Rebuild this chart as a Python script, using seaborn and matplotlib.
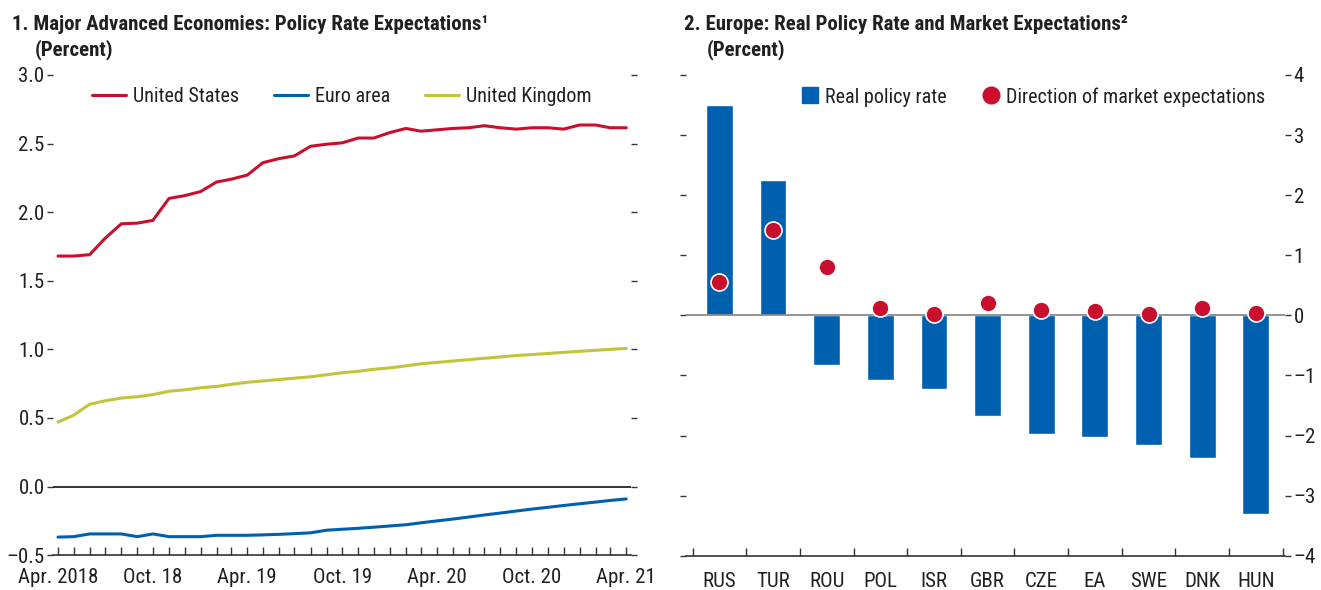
import matplotlib
matplotlib.use("Agg")
import matplotlib.pyplot as plt
import matplotlib.dates as mdates
from matplotlib import font_manager
from matplotlib.lines import Line2D
import numpy as np
import pandas as pd
import seaborn as sns

# ---------------- data ----------------
months = pd.date_range("2018-04-01", "2021-04-01", freq="MS")
us = [1.68, 1.68, 1.69, 1.81, 1.915, 1.92, 1.94, 2.10, 2.12, 2.15, 2.22, 2.24, 2.27,
      2.36, 2.39, 2.41, 2.48, 2.495, 2.505, 2.54, 2.54, 2.58, 2.61, 2.59, 2.60,
      2.61, 2.615, 2.63, 2.615, 2.605, 2.615, 2.615, 2.605, 2.635, 2.635, 2.615, 2.615]
euro = [-0.368, -0.365, -0.345, -0.345, -0.345, -0.365, -0.345, -0.365, -0.365, -0.365,
        -0.355, -0.355, -0.355, -0.352, -0.348, -0.343, -0.337, -0.318, -0.311, -0.304,
        -0.296, -0.287, -0.278, -0.264, -0.25, -0.237, -0.222, -0.207, -0.193, -0.178,
        -0.164, -0.151, -0.138, -0.125, -0.113, -0.101, -0.09]
uk = [0.47, 0.52, 0.60, 0.625, 0.645, 0.655, 0.67, 0.695, 0.705, 0.72, 0.73, 0.745,
      0.76, 0.77, 0.78, 0.79, 0.80, 0.815, 0.83, 0.84, 0.855, 0.865, 0.88, 0.895,
      0.905, 0.915, 0.925, 0.935, 0.945, 0.955, 0.962, 0.97, 0.978, 0.986, 0.993,
      1.0, 1.007]
series_names = ["United States", "Euro area", "United Kingdom"]
x_tick_labels = ["Apr. 2018", "Oct. 18", "Apr. 19", "Oct. 19", "Apr. 20", "Oct. 20", "Apr. 21"]
left_yticks = [-0.5, 0.0, 0.5, 1.0, 1.5, 2.0, 2.5, 3.0]

countries = ["RUS", "TUR", "ROU", "POL", "ISR", "GBR", "CZE", "EA", "SWE", "DNK", "HUN"]
real_rate = [3.5, 2.26, -0.83, -1.07, -1.22, -1.68, -1.97, -2.03, -2.15, -2.37, -3.3]
expectations = [0.56, 1.42, 0.81, 0.12, 0.02, 0.21, 0.09, 0.07, 0.02, 0.13, 0.04]
right_yticks = [-4, -3, -2, -1, 0, 1, 2, 3, 4]

# ---------------- style ----------------
sns.set_theme(style="white")
weights = {}
for f in font_manager.fontManager.ttflist:
    weights.setdefault(f.name, set()).add(f.weight)
fam = "Liberation Sans"
for cand in ["Liberation Sans Narrow", "Archivo Narrow", "Roboto Condensed",
             "PT Sans Narrow", "Asap Condensed", "Fira Sans Condensed",
             "IBM Plex Sans Condensed", "Open Sans Condensed"]:
    w = weights.get(cand, set())
    if 400 in w and any(x >= 600 for x in w):
        fam = cand
        break
plt.rcParams["font.family"] = [fam, "DejaVu Sans"]
plt.rcParams["axes.unicode_minus"] = False

RED = "#C8102E"
BLUE = "#0060B0"
OLIVE = "#C2C43A"
TXT = "#231F20"
FS = 15
LFS = 14.5

fig = plt.figure(figsize=(13.21, 5.90), dpi=100)
ax1 = fig.add_axes([0.040, 0.059, 0.438, 0.814])
ax2 = fig.add_axes([0.519, 0.058, 0.454, 0.815])

# ---------------- panel 1 ----------------
df = pd.DataFrame({
    "date": np.concatenate([months, months, months]),
    "value": us + euro + uk,
    "series": np.repeat(series_names, len(months)),
})
sns.lineplot(data=df, x="date", y="value", hue="series", hue_order=series_names,
             palette=[RED, BLUE, OLIVE], linewidth=2.2, ax=ax1, legend=False)
ax1.axhline(0, color="black", linewidth=1.1, zorder=1)
ax1.set_ylim(-0.5, 3.0)
ax1.set_xlim(months[0] - pd.Timedelta(days=10), months[-1] + pd.Timedelta(days=10))
ax1.set_yticks(left_yticks)
ax1.set_yticklabels([("\u2013" + f"{abs(v):.1f}") if v < 0 else f"{v:.1f}" for v in left_yticks])
major = [months[i] for i in range(0, len(months), 6)]
ax1.set_xticks(major)
ax1.set_xticklabels(x_tick_labels)
ax1.xaxis.set_minor_locator(mdates.MonthLocator())
ax1.set_xlabel("")
ax1.set_ylabel("")
for s in ["top", "left", "right"]:
    ax1.spines[s].set_visible(False)
ax1.spines["bottom"].set_color("#333333")
ax1.spines["bottom"].set_linewidth(1.2)
ax1.tick_params(axis="y", which="both", left=True, right=True, direction="out",
                length=4, width=1, colors="#333333", labelsize=FS, labelcolor=TXT, pad=2)
ax1.tick_params(axis="x", which="both", bottom=True, direction="in", length=6, width=1,
                colors="#333333", labelsize=FS, labelcolor=TXT, pad=9)
handles = [Line2D([0], [0], color=c, lw=2.2) for c in [RED, BLUE, OLIVE]]
ax1.legend(handles, series_names, loc="upper left", bbox_to_anchor=(0.047, 1.0), ncol=3,
           frameon=False, fontsize=LFS, handlelength=1.7, columnspacing=1.7,
           handletextpad=0.35, labelcolor=TXT, borderaxespad=0.2)

# ---------------- panel 2 ----------------
dfb = pd.DataFrame({"country": countries, "rate": real_rate, "exp": expectations})
sns.barplot(data=dfb, x="country", y="rate", order=countries, color=BLUE, width=0.5,
            saturation=1, ax=ax2, zorder=2)
ax2.axhline(0, color="#8a8a8a", linewidth=1.3, zorder=3)
sns.scatterplot(data=dfb, x="country", y="exp", color=RED, s=150, edgecolor="white",
                linewidth=1.2, ax=ax2, zorder=4)
ax2.set_ylim(-4, 4)
ax2.set_xlim(-0.63, 10.55)
ax2.set_xlabel("")
ax2.set_ylabel("")
ax2.yaxis.tick_right()
ax2.set_yticks(right_yticks)
ax2.set_yticklabels([("\u2013" + str(abs(v))) if v < 0 else str(v) for v in right_yticks])
ax2.tick_params(axis="y", which="both", left=True, right=True, labelleft=False,
                labelright=True, direction="out", length=4, width=1, colors="#333333",
                labelsize=FS, labelcolor=TXT, pad=2)
ax2.set_xticks(range(len(countries)))
ax2.set_xticklabels(countries)
ax2.set_xticks(np.arange(-0.5, len(countries), 1.0), minor=True)
ax2.tick_params(axis="x", which="major", length=0, labelsize=FS, labelcolor=TXT, pad=12)
ax2.tick_params(axis="x", which="minor", bottom=True, direction="in", length=6, width=1,
                colors="#333333")
for s in ["top", "left", "right"]:
    ax2.spines[s].set_visible(False)
ax2.spines["bottom"].set_color("#333333")
ax2.spines["bottom"].set_linewidth(1.2)
h2 = [Line2D([0], [0], marker="s", color="none", markerfacecolor=BLUE, markeredgecolor=BLUE,
             markersize=11.5),
      Line2D([0], [0], marker="o", color="none", markerfacecolor=RED, markeredgecolor=RED,
             markersize=12)]
ax2.legend(h2, ["Real policy rate", "Direction of market expectations"], loc="upper left",
           bbox_to_anchor=(0.172, 1.0), ncol=2, frameon=False, fontsize=LFS, handlelength=0.9,
           columnspacing=1.75, handletextpad=0.3, labelcolor=TXT, borderaxespad=0.2)

# ---------------- titles ----------------
TFS = 15
fig.text(0.009, 0.958, "1. Major Advanced Economies: Policy Rate Expectations\u00b9",
         fontsize=TFS, fontweight="bold", color=TXT, va="center", ha="left")
fig.text(0.026, 0.916, "(Percent)", fontsize=TFS, fontweight="bold", color=TXT,
         va="center", ha="left")
fig.text(0.518, 0.958, "2. Europe: Real Policy Rate and Market Expectations\u00b2",
         fontsize=TFS, fontweight="bold", color=TXT, va="center", ha="left")
fig.text(0.535, 0.916, "(Percent)", fontsize=TFS, fontweight="bold", color=TXT,
         va="center", ha="left")

fig.savefig("out.png", dpi=100)
